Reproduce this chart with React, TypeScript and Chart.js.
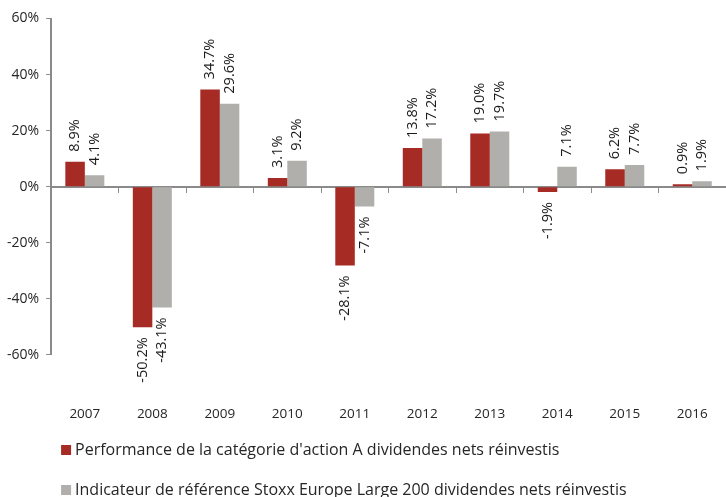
import React, { useEffect, useRef } from "react";
import { Chart, registerables } from "chart.js";

Chart.register(...registerables);

const categories = ["2007", "2008", "2009", "2010", "2011", "2012", "2013", "2014", "2015", "2016"];
const fundValues = [8.9, -50.2, 34.7, 3.1, -28.1, 13.8, 19.0, -1.9, 6.2, 0.9];
const benchmarkValues = [4.1, -43.1, 29.6, 9.2, -7.1, 17.2, 19.7, 7.1, 7.7, 1.9];
const seriesNames = [
  "Performance de la catégorie d'action A dividendes nets réinvestis",
  "Indicateur de référence Stoxx Europe Large 200 dividendes nets réinvestis",
];
const yTicks = [-60, -40, -20, 0, 20, 40, 60];

const RED = "#A62B24";
const GREY = "#B0AFAC";
const AXIS = "#8A8A8A";
const TEXT = "#262626";
const FONT = "'Open Sans'";

const dataLabelPlugin = {
  id: "dataLabels",
  afterDatasetsDraw(chart: any) {
    const ctx = chart.ctx;
    ctx.save();
    ctx.font = `14.5px ${FONT}`;
    ctx.fillStyle = "#1a1a1a";
    ctx.textBaseline = "middle";
    chart.data.datasets.forEach((ds: any, di: number) => {
      const meta = chart.getDatasetMeta(di);
      meta.data.forEach((bar: any, i: number) => {
        const v = ds.data[i] as number;
        const pos = v >= 0;
        ctx.save();
        ctx.translate(bar.x, bar.y + (pos ? -10 : 10));
        ctx.rotate(-Math.PI / 2);
        ctx.textAlign = pos ? "left" : "right";
        ctx.fillText(v.toFixed(1) + "%", 0, 0);
        ctx.restore();
      });
    });
    ctx.restore();
  },
};

const legendPlugin = {
  id: "customLegend",
  afterDraw(chart: any) {
    const ctx = chart.ctx;
    const left = chart.chartArea.left + 10;
    const ys = [chart.height - 47, chart.height - 7];
    ctx.save();
    ctx.font = `16px ${FONT}`;
    ctx.textBaseline = "middle";
    ctx.textAlign = "left";
    chart.data.datasets.forEach((ds: any, i: number) => {
      const y = ys[i];
      ctx.fillStyle = ds.backgroundColor;
      ctx.fillRect(left, y - 5, 10, 10);
      ctx.fillStyle = TEXT;
      ctx.fillText(ds.label, left + 14, y);
    });
    ctx.restore();
  },
};

export default function App() {
  const ref = useRef<HTMLCanvasElement | null>(null);
  useEffect(() => {
    document.body.style.margin = "0";
    if (!ref.current) return;
    const chart = new Chart(ref.current, {
      type: "bar",
      data: {
        labels: categories,
        datasets: [
          { label: seriesNames[0], data: fundValues, backgroundColor: RED },
          { label: seriesNames[1], data: benchmarkValues, backgroundColor: GREY },
        ],
      },
      options: {
        animation: false,
        responsive: true,
        maintainAspectRatio: false,
        datasets: { bar: { barPercentage: 1, categoryPercentage: 0.578 } },
        layout: { padding: { top: 18.5, left: 0, right: 0, bottom: 72 } },
        plugins: { legend: { display: false }, tooltip: { enabled: false } },
        scales: {
          x: {
            type: "category",
            position: "bottom",
            offset: true,
            grid: { display: true, drawOnChartArea: false, drawTicks: true, tickLength: 48, color: "rgba(0,0,0,0)" },
            border: { display: false },
            ticks: { padding: 3, color: TEXT, font: { family: FONT, size: 13.5 }, maxRotation: 0 },
          },
          x0: {
            type: "category",
            axis: "x",
            position: { y: 0 },
            offset: true,
            grid: { offset: true, drawOnChartArea: false, drawTicks: true, tickLength: 5, color: AXIS, lineWidth: 1 },
            border: { display: true, color: AXIS, width: 2 },
            ticks: { display: false },
          },
          y: {
            type: "linear",
            min: -60,
            max: 60,
            afterBuildTicks: (scale: any) => {
              scale.ticks = yTicks.map((v) => ({ value: v }));
            },
            grid: { drawOnChartArea: false, drawTicks: true, tickLength: 5, color: AXIS, lineWidth: 1 },
            border: { display: true, color: AXIS, width: 2 },
            ticks: {
              padding: 7,
              color: TEXT,
              font: { family: FONT, size: 14 },
              callback: (v: any) => `${v}%`,
            },
          },
        } as any,
      },
      plugins: [dataLabelPlugin, legendPlugin],
    });
    return () => chart.destroy();
  }, []);
  return (
    <div style={{ position: "relative", width: 726, height: 497 }}>
      <canvas ref={ref} />
    </div>
  );
}
